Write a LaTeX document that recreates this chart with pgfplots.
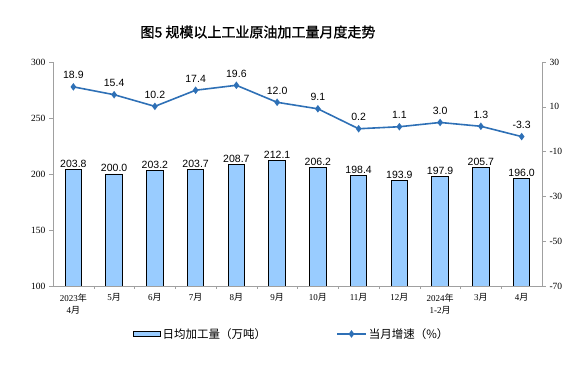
\documentclass[border=0pt]{standalone}
\usepackage{fontspec}
\setmainfont{Liberation Serif}
\newfontfamily\cjk{Noto Sans CJK SC}
\newfontfamily\cjkb[FakeBold=1.2]{Noto Sans CJK SC}
\newfontfamily\arial{Liberation Sans}
\usepackage{pgfplots}
\pgfplotsset{compat=1.18}
\definecolor{barfill}{RGB}{153,204,255}
\definecolor{linec}{RGB}{46,112,182}
\definecolor{axgray}{RGB}{160,160,160}
\pgfplotsset{
  barleg/.style={legend image code/.code={\draw[##1] (0pt,-2.5pt) rectangle (27pt,2.5pt);}},
  lineleg/.style={legend image code/.code={\draw[mark repeat=2, mark phase=2, ##1] plot coordinates {(0pt,0pt) (14.5pt,0pt) (29pt,0pt)};}},
}
\begin{document}
\begin{tikzpicture}
\path[use as bounding box] (0pt,0pt) rectangle (587pt,380pt);
\node[font=\cjkb\fontsize{14}{16}\selectfont] at (258pt,348pt) {图5\ 规模以上工业原油加工量月度走势};
\begin{axis}[
  at={(53pt,94pt)}, anchor=south west, scale only axis, width=489pt, height=224pt,
  xmin=-0.5, xmax=11.5, ymin=100, ymax=300, ytick={100,150,...,300},
  axis y line*=left, axis x line*=bottom,
  axis line style={draw=axgray, line width=0.8pt}, 
  tick align=outside, major tick length=4pt,
  ytick style={draw=axgray}, major x tick style={draw=none},
  minor x tick style={draw=axgray}, minor tick length=3pt,
  xtick={0,...,11}, minor xtick={0.5,1.5,...,10.5},
  xticklabels={{2023{\cjk 年}\\4{\cjk 月}},5{\cjk 月},6{\cjk 月},7{\cjk 月},8{\cjk 月},9{\cjk 月},10{\cjk 月},11{\cjk 月},12{\cjk 月},{2024{\cjk 年}\\1-2{\cjk 月}},3{\cjk 月},4{\cjk 月}},
  xticklabel style={align=center, font=\fontsize{9}{12}\selectfont},
  yticklabel style={font=\fontsize{9.5}{11}\selectfont},
  /pgf/number format/assume math mode=true,
  legend style={at={(0.163,-0.214)}, anchor=west, draw=none, legend columns=2,
    font=\cjk\fontsize{11.5}{13}\selectfont, inner sep=0pt,
    /tikz/every even column/.append style={column sep=68pt}},
  legend cell align=left,
]
\addplot[ybar, bar width=16.5pt, fill=barfill, draw=black, line width=0.8pt,
  nodes near coords,
  every node near coord/.append style={font=\arial\fontsize{10.5}{12}\selectfont, text=black, inner sep=1.5pt,
    /pgf/number format/.cd, fixed, fixed zerofill, precision=1, assume math mode=true},
  barleg]
coordinates {(0,203.8) (1,200.0) (2,203.2) (3,203.7) (4,208.7) (5,212.1) (6,206.2) (7,198.4) (8,193.9) (9,197.9) (10,205.7) (11,196.0)};
\addlegendentry{日均加工量（万吨）}
\addlegendimage{linec, line width=1.6pt, mark=diamond*, mark size=2.5pt, lineleg}
\addlegendentry{当月增速（\%）}
\end{axis}
\begin{axis}[
  at={(53pt,94pt)}, anchor=south west, scale only axis, width=489pt, height=224pt,
  xmin=-0.5, xmax=11.5, ymin=-70, ymax=30, ytick={-70,-50,...,30},
  axis y line*=right, axis x line=none,
  axis line style={draw=axgray, line width=0.8pt},
  tick align=outside, major tick length=4pt, ytick style={draw=axgray},
  yticklabel style={font=\fontsize{9.5}{11}\selectfont},
  /pgf/number format/assume math mode=true,
]
\addplot[linec, line width=1.6pt, mark=diamond*, mark size=2.5pt,
  nodes near coords,
  every node near coord/.append style={font=\arial\fontsize{10.5}{12}\selectfont, text=black, anchor=south, yshift=4pt,
    /pgf/number format/.cd, fixed, fixed zerofill, precision=1, assume math mode=true}]
coordinates {(0,18.9) (1,15.4) (2,10.2) (3,17.4) (4,19.6) (5,12.0) (6,9.1) (7,0.2) (8,1.1) (9,3.0) (10,1.3) (11,-3.3)};
\end{axis}
\end{tikzpicture}
\end{document}
